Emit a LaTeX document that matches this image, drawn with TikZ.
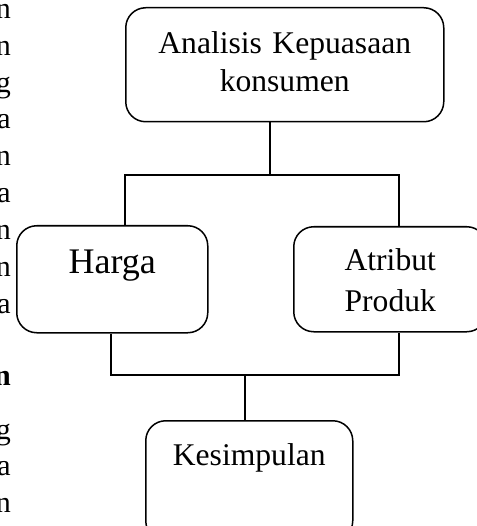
\documentclass[tikz,border=0pt]{standalone}
\usepackage{fontspec}
\setmainfont{Liberation Serif}
\tikzset{
  kotak/.style={draw,line width=1.5pt,rounded corners=20pt,inner sep=0pt,
    align=center,anchor=north west,font=\fontsize{31.6}{38}\selectfont},
  garis/.style={line width=1.4pt},
  sisa/.style={inner sep=0pt,anchor=base east,font=\fontsize{30}{36}\selectfont}
}

\begin{document}
\begin{tikzpicture}[x=1pt,y=1pt]
\useasboundingbox (0,0) rectangle (476,-526);
% potongan teks halaman di tepi kiri
\foreach \huruf/\y in {n/19,n/56,g/93,a/129,n/166,a/203,n/239,n/276,a/313,g/439,a/475,n/512}
  \node [sisa] (sisa-\y) at (11,-\y) {\huruf};
\node [sisa,font=\fontsize{30}{36}\selectfont\bfseries] (sisa-judul) at (11,-385) {n};

\node [kotak,text width=318pt,text height=46pt,text depth=68pt] (analisis) at (125,-7)
  {Analisis Kepuasaan\\konsumen};
\node [kotak,text width=191pt,text height=48pt,text depth=59pt,
  font=\fontsize{36}{42}\selectfont] (harga) at (16,-225) {Harga};
\node [kotak,text width=193pt,text height=44pt,text depth=61pt,
  font=\fontsize{31.6}{41}\selectfont] (atribut) at (293,-226) {Atribut\\Produk};
\node [kotak,text width=207pt,text height=45pt,text depth=75pt] (kesimpulan) at (145,-420)
  {Kesimpulan};

\coordinate (cabang atas) at (270,-175);
\coordinate (cabang kiri) at (125,-175);
\coordinate (cabang kanan) at (399,-175);
\coordinate (gabung kiri) at (111,-375);
\coordinate (gabung kanan) at (399,-375);
\coordinate (gabung tengah) at (245,-375);

\draw [garis] (analisis.south -| cabang atas) -- (cabang atas);
\draw [garis] (harga.north -| cabang kiri) -- (cabang kiri) -- (cabang kanan)
  -- (atribut.north -| cabang kanan);
\draw [garis] (harga.south -| gabung kiri) -- (gabung kiri) -- (gabung kanan)
  -- (atribut.south -| gabung kanan);
\draw [garis] (gabung tengah) -- (kesimpulan.north -| gabung tengah);
\end{tikzpicture}
\end{document}
